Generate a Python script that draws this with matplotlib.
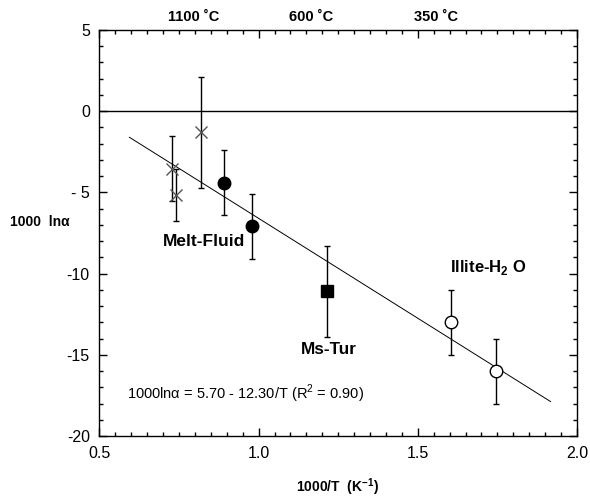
import matplotlib.pyplot as plt
from matplotlib.ticker import MultipleLocator
import numpy as np

plt.rcParams['font.family'] = ['Liberation Sans', 'DejaVu Sans']

# Melt-fluid data (crosses = literature, filled circles)
cross_x = [0.729, 0.740, 0.818]
cross_y = [-3.55, -5.17, -1.30]
cross_err = [2.0, 1.6, 3.4]

melt_x = [0.890, 0.978]
melt_y = [-4.40, -7.10]
melt_err = [2.0, 2.0]

# Ms-Tur
ms_x = [1.214]
ms_y = [-11.1]
ms_err = [2.8]

# Illite-H2O
ill_x = [1.603, 1.745]
ill_y = [-13.0, -16.0]
ill_err = [2.0, 2.0]

# regression 1000ln(alpha) = a + b * (1000/T)
fit_a, fit_b = 5.70, -12.30
fit_range = [0.594, 1.917]

fig = plt.figure(figsize=(5.9, 4.98), dpi=100)
ax = fig.add_axes([0.1686, 0.1245, 0.8093, 0.8153])

eb = dict(fmt='none', ecolor='black', elinewidth=1, capsize=2, capthick=1)
ax.errorbar(cross_x, cross_y, yerr=cross_err, **eb)
ax.errorbar(melt_x, melt_y, yerr=melt_err, **eb)
ax.errorbar(ms_x, ms_y, yerr=ms_err, **eb)
ax.errorbar(ill_x, ill_y, yerr=ill_err, **eb)

ax.plot(cross_x, cross_y, 'x', color='#555555', ms=9, mew=1, zorder=3)
ax.plot(melt_x, melt_y, 'o', color='black', ms=9, zorder=3)
ax.plot(ms_x, ms_y, 's', color='black', ms=9, zorder=3)
ax.plot(ill_x, ill_y, 'o', mfc='white', mec='black', ms=9, mew=1, zorder=3)

xf = np.array(fit_range)
ax.plot(xf, fit_a + fit_b * xf, color='black', lw=0.7)
ax.axhline(0, color='black', lw=1)

ax.set_xlim(0.5, 2.0)
ax.set_ylim(-20, 5)
ax.xaxis.set_minor_locator(MultipleLocator(0.05))
ax.yaxis.set_minor_locator(MultipleLocator(1))
ax.set_xticks([0.5, 1.0, 1.5, 2.0])
ax.set_xticklabels(['0.5', '1.0', '1.5', '2.0'])
ax.set_yticks([-20, -15, -10, -5, 0, 5])
ax.set_yticklabels(['-20', '-15', '-10', '- 5', '0', '5'])
ax.tick_params(which='both', direction='in', top=True, right=True,
               labelsize=11.5, width=1)
ax.tick_params(which='major', length=6, pad=7)
ax.tick_params(which='minor', length=3)
for s in ax.spines.values():
    s.set_linewidth(1)

fig.text(338 / 590, 1 - 487 / 498, '1000/T  (K$^{\\mathregular{-1}}$)', fontsize=10,
         fontweight='bold', ha='center', va='center')
fig.text(0.017, 1 - 222 / 498, '1000  ln\u03b1', fontsize=10, fontweight='bold', va='center')

# temperature labels along top
for xp, lab in [(194 / 590, '1100 \u02daC'), (311 / 590, '600 \u02daC'), (436 / 590, '350 \u02daC')]:
    fig.text(xp, 1 - 17 / 498, lab, fontsize=10.5, fontweight='bold', ha='center', va='center')

ax.text(0.70, -8.0, 'Melt-Fluid', fontsize=12.5, fontweight='bold', ha='left', va='center')
ax.text(1.221, -14.7, 'Ms-Tur', fontsize=12.3, fontweight='bold', ha='center', va='center')
ax.text(1.60, -9.6, 'Illite-H$_{\\mathregular{2}}$ O', fontsize=12, fontweight='bold', ha='left', va='center')
ax.text(0.585, -17.4, '1000ln\u03b1 = 5.70 - 12.30/T (R$^{\\mathregular{2}}$ = 0.90)', fontsize=10.5,
        ha='left', va='center')

fig.savefig('out.png', dpi=100)
